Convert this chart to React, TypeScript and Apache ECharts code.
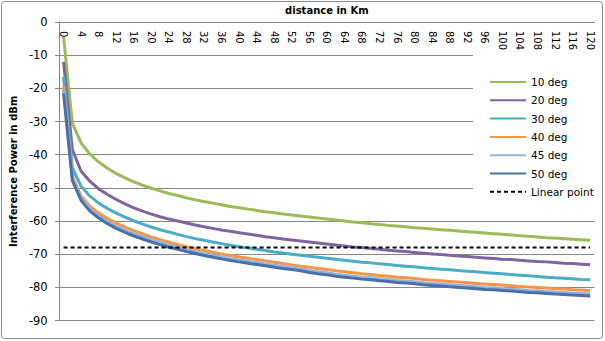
import React, { useEffect, useRef } from "react";
import * as echarts from "echarts";

const distances = [
  0, 2, 4, 6, 8, 10, 12, 14, 16, 18, 20, 22, 24, 26, 28, 30, 32, 34, 36, 38, 40,
  42, 44, 46, 48, 50, 52, 54, 56, 58, 60, 62, 64, 66, 68, 70, 72, 74, 76, 78, 80,
  82, 84, 86, 88, 90, 92, 94, 96, 98, 100, 102, 104, 106, 108, 110, 112, 114, 116, 118, 120,
];

const deg10 = [
  -4.5, -30.5, -36.5, -39.8, -42.2, -44.1, -45.7, -47.0, -48.2, -49.2, -50.1,
  -50.9, -51.7, -52.3, -53.0, -53.6, -54.1, -54.6, -55.1, -55.6, -56.0,
  -56.4, -56.8, -57.2, -57.5, -57.9, -58.2, -58.5, -58.8, -59.1, -59.4,
  -59.7, -60.0, -60.3, -60.5, -60.8, -61.0, -61.3, -61.5, -61.7, -62.0,
  -62.2, -62.4, -62.6, -62.8, -63.0, -63.2, -63.4, -63.6, -63.8, -64.0,
  -64.2, -64.4, -64.6, -64.8, -65.0, -65.1, -65.3, -65.5, -65.6, -65.8,
];

const deg20 = [
  -12.0, -38.5, -45.0, -48.0, -50.3, -52.0, -53.5, -54.8, -56.0, -57.0, -57.9,
  -58.7, -59.4, -60.0, -60.6, -61.2, -61.7, -62.2, -62.7, -63.1, -63.5,
  -63.9, -64.3, -64.7, -65.0, -65.4, -65.7, -66.0, -66.3, -66.6, -66.9,
  -67.2, -67.5, -67.8, -68.0, -68.3, -68.5, -68.8, -69.0, -69.2, -69.5,
  -69.7, -69.9, -70.1, -70.3, -70.5, -70.7, -70.9, -71.1, -71.3, -71.5,
  -71.6, -71.8, -72.0, -72.2, -72.3, -72.5, -72.7, -72.8, -73.0, -73.2,
];

const deg30 = [
  -16.5, -44.0, -49.5, -52.5, -54.6, -56.2, -57.6, -58.8, -59.9, -60.9, -61.8,
  -62.6, -63.3, -64.0, -64.7, -65.3, -65.8, -66.3, -66.8, -67.3, -67.7,
  -68.1, -68.5, -68.9, -69.3, -69.6, -70.0, -70.3, -70.6, -70.9, -71.2,
  -71.5, -71.8, -72.1, -72.4, -72.6, -72.9, -73.1, -73.4, -73.6, -73.8,
  -74.1, -74.3, -74.5, -74.7, -74.9, -75.1, -75.3, -75.5, -75.7, -75.9,
  -76.1, -76.3, -76.5, -76.7, -76.9, -77.1, -77.2, -77.4, -77.6, -77.7,
];

const deg40 = [
  -19.5, -46.5, -52.5, -55.5, -57.6, -59.2, -60.6, -61.8, -62.9, -63.9, -64.8,
  -65.6, -66.4, -67.1, -67.7, -68.3, -68.9, -69.4, -69.9, -70.4, -70.8,
  -71.2, -71.6, -72.0, -72.4, -72.8, -73.2, -73.6, -73.9, -74.3, -74.6,
  -75.0, -75.3, -75.6, -75.9, -76.1, -76.4, -76.6, -76.9, -77.1, -77.3,
  -77.6, -77.8, -78.0, -78.2, -78.4, -78.6, -78.8, -79.0, -79.1, -79.3,
  -79.5, -79.7, -79.9, -80.0, -80.2, -80.4, -80.5, -80.7, -80.8, -81.0,
];

const deg45 = [
  -20.5, -47.2, -53.2, -56.4, -58.5, -60.2, -61.6, -62.8, -63.9, -64.8, -65.7,
  -66.5, -67.3, -67.9, -68.6, -69.2, -69.8, -70.3, -70.8, -71.3, -71.7,
  -72.1, -72.5, -72.9, -73.3, -73.7, -74.0, -74.4, -74.9, -75.3, -75.6,
  -76.0, -76.3, -76.6, -76.9, -77.1, -77.4, -77.6, -77.9, -78.1, -78.3,
  -78.6, -78.8, -79.0, -79.2, -79.4, -79.6, -79.8, -80.0, -80.1, -80.3,
  -80.5, -80.7, -80.9, -81.0, -81.2, -81.4, -81.5, -81.7, -81.8, -82.0,
];

const deg50 = [
  -21.5, -47.8, -53.8, -57.0, -59.1, -60.8, -62.2, -63.4, -64.5, -65.4, -66.3,
  -67.1, -67.9, -68.5, -69.2, -69.8, -70.4, -70.9, -71.4, -71.9, -72.3,
  -72.7, -73.1, -73.5, -73.9, -74.3, -74.6, -75.0, -75.5, -75.9, -76.2,
  -76.6, -76.9, -77.2, -77.5, -77.7, -78.0, -78.2, -78.5, -78.7, -78.9,
  -79.2, -79.4, -79.6, -79.8, -80.0, -80.2, -80.4, -80.6, -80.7, -80.9,
  -81.1, -81.3, -81.5, -81.6, -81.8, -82.0, -82.1, -82.3, -82.4, -82.6,
];

// Linear point: constant level drawn from first to last distance
const linearPointDistances = ["0", "120"];
const linearPointLevel = [-68, -68];

const seriesNames = ["10 deg", "20 deg", "30 deg", "40 deg", "45 deg", "50 deg"];
const seriesData = [deg10, deg20, deg30, deg40, deg45, deg50];
const seriesColors = ["#9BBB59", "#8064A2", "#4BACC6", "#F79646", "#95B3D7", "#4A70A8"];

const FONT = "DejaVu Sans";
const GRID_COLOR = "#878787";

export default function App() {
  const ref = useRef<HTMLDivElement>(null);

  useEffect(() => {
    if (!ref.current) return;
    const chart = echarts.init(ref.current, undefined, { renderer: "svg" });

    const lineSeries: any[] = seriesNames.map((name, i) => ({
      name,
      type: "line",
      data: seriesData[i],
      symbol: "none",
      lineStyle: { color: seriesColors[i], width: 3 },
      itemStyle: { color: seriesColors[i] },
    }));

    lineSeries.push({
      name: "Linear point",
      type: "line",
      data: linearPointDistances.map((d, i) => [d, linearPointLevel[i]]),
      symbol: "none",
      lineStyle: { color: "#000", width: 2, type: [4, 3] },
      itemStyle: { color: "#000" },
    });

    chart.setOption({
      animation: false,
      backgroundColor: "#fff",
      textStyle: { fontFamily: FONT },
      grid: { left: 52.5, right: 10.5, top: 21.8, bottom: 20.4, containLabel: false },
      xAxis: {
        type: "category",
        position: "top",
        data: distances.map(String),
        boundaryGap: true,
        name: "distance in Km",
        nameLocation: "middle",
        nameGap: 7,
        nameTextStyle: { fontFamily: FONT, fontWeight: "bold", fontSize: 10, color: "#000" },
        axisLine: { show: true, onZero: false, lineStyle: { color: GRID_COLOR, width: 1 } },
        axisTick: { show: false },
        axisLabel: {
          inside: true,
          rotate: 90,
          interval: 1,
          margin: 9,
          fontSize: 10,
          fontFamily: FONT,
          color: "#000",
          showMinLabel: true,
          showMaxLabel: true,
        },
        splitLine: { show: false },
      },
      yAxis: {
        type: "value",
        min: -90,
        max: 0,
        interval: 10,
        name: "Interference Power in dBm",
        nameLocation: "middle",
        nameGap: 36,
        nameRotate: 90,
        nameTextStyle: { fontFamily: FONT, fontWeight: "bold", fontSize: 10, color: "#000" },
        axisLine: { show: true, onZero: false, lineStyle: { color: GRID_COLOR, width: 1 } },
        axisTick: { show: true, length: 4, lineStyle: { color: GRID_COLOR } },
        axisLabel: { fontSize: 11.5, fontFamily: FONT, color: "#000", margin: 11.5 },
        splitLine: { show: true, lineStyle: { color: GRID_COLOR, width: 1 } },
      },
      legend: {
        orient: "vertical",
        left: 473,
        top: 53,
        padding: [22.5, 5, 4.5, 16],
        backgroundColor: "#fff",
        itemWidth: 36,
        itemHeight: 10,
        itemGap: 5.3,
        itemStyle: { opacity: 0 },
        textStyle: { fontFamily: FONT, fontSize: 10.5, color: "#000", lineHeight: 13 },
        data: [...seriesNames, "Linear point"],
      },
      graphic: [
        {
          type: "rect",
          silent: true,
          z: 100,
          shape: { x: 1.5, y: 1.5, width: 601, height: 337, r: 3 },
          style: { fill: "none", stroke: "#8c8c8c", lineWidth: 1 },
        },
      ],
      series: lineSeries,
    });

    return () => chart.dispose();
  }, []);

  return (
    <div
      ref={ref}
      style={{ position: "fixed", left: 0, top: 0, width: 605, height: 341 }}
    />
  );
}
